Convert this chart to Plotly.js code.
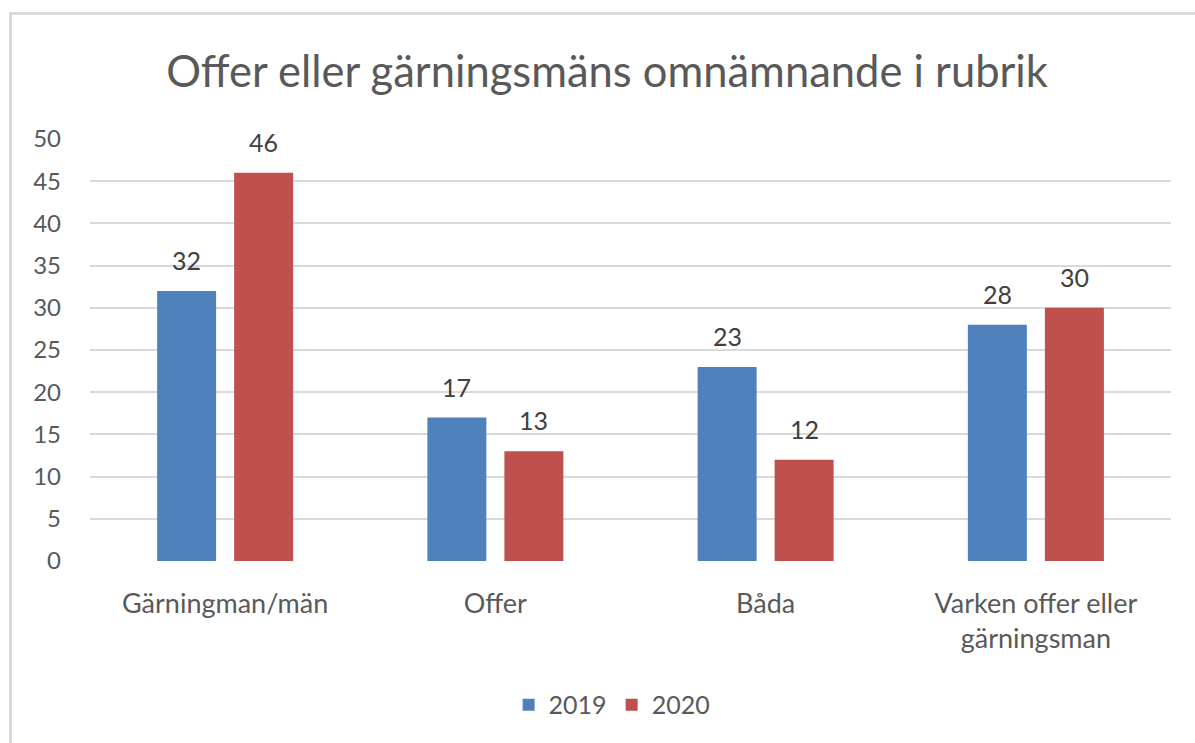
<!DOCTYPE html>
<html>
<head>
<meta charset="utf-8">
<script src="https://cdn.plot.ly/plotly-3.0.1.min.js"></script>
<style>
html,body{margin:0;padding:0;background:#fff;}
#frame{position:absolute;left:9px;top:12px;width:1186px;height:731px;border-left:3px solid #d9d9d9;border-top:3px solid #d9d9d9;box-sizing:border-box;}
#chart{position:absolute;left:0;top:0;width:1195px;height:743px;}
</style>
</head>
<body>
<div id="frame"></div>
<div id="chart"></div>
<script>
const categories = ["Gärningman/män", "Offer", "Båda", "Varken offer eller<br>gärningsman"];
const values2019 = [32, 17, 23, 28];
const values2020 = [46, 13, 12, 30];
const seriesNames = ["2019", "2020"];
const tickVals = [0, 5, 10, 15, 20, 25, 30, 35, 40, 45, 50];

const textColor = "#595959";
const fontFam = "Lato, 'Open Sans', sans-serif";

const traces = [
  {type: "bar", name: seriesNames[0], x: categories, y: values2019, marker: {color: "#4F81BD"}},
  {type: "bar", name: seriesNames[1], x: categories, y: values2020, marker: {color: "#C0504D"}}
];

// data labels above each bar
const labelShiftPx = 31, slotShift = 38.5;
const annotations = [];
[values2019, values2020].forEach((vals, s) => {
  vals.forEach((v, i) => {
    annotations.push({x: categories[i], y: v, xref: "x", yref: "y",
      text: String(v), showarrow: false, xshift: s === 0 ? -slotShift : slotShift, yshift: labelShiftPx,
      yanchor: "middle", font: {size: 25, color: "#404040", family: fontFam}});
  });
});

const layout = {
  width: 1195, height: 743,
  paper_bgcolor: "rgba(0,0,0,0)", plot_bgcolor: "rgba(0,0,0,0)",
  margin: {l: 90, r: 24, t: 139, b: 182},
  font: {family: fontFam, color: textColor},
  title: {text: "Offer eller gärningsmäns omnämnande i rubrik", font: {size: 43.5, color: textColor, family: fontFam},
          x: 0.508, xanchor: "center", y: 0.903, yanchor: "middle"},
  barmode: "group", bargap: 0.43, bargroupgap: 0.234,
  xaxis: {tickfont: {size: 27, color: textColor}, showgrid: false, zeroline: false, showline: false, ticks: "",
          ticklabelstandoff: 24},
  yaxis: {range: [0, 50], tickvals: tickVals, tickfont: {size: 24, color: textColor},
          gridcolor: "#d9d9d9", gridwidth: 2, zeroline: false, showline: false, ticks: "", ticklabelstandoff: 28},
  annotations: annotations,
  showlegend: true,
  legend: {orientation: "h", x: 0.483, xanchor: "center", y: -0.341, yanchor: "middle",
           font: {size: 25, color: textColor}, itemwidth: 30}
};

Plotly.newPlot("chart", traces, layout, {displayModeBar: false, staticPlot: true});
</script>
</body>
</html>
